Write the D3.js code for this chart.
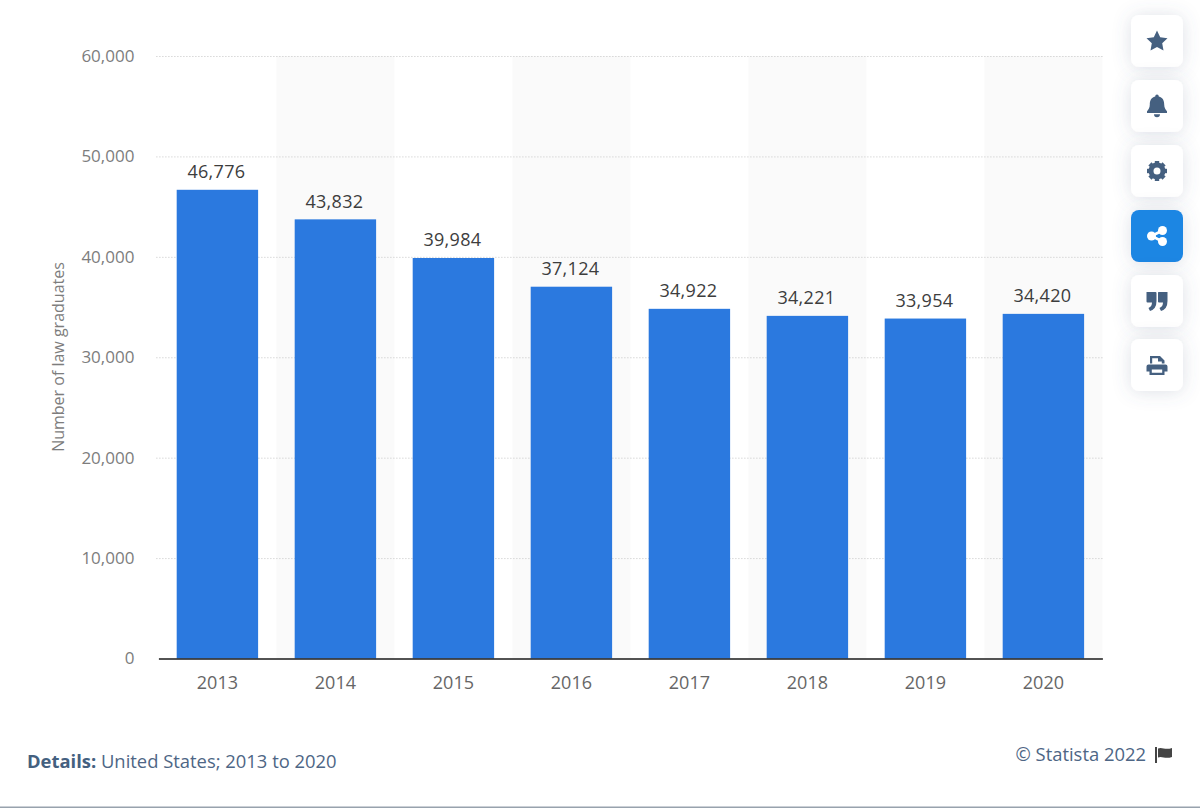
<!DOCTYPE html>
<html>
<head>
<meta charset="utf-8">
<script src="https://cdn.jsdelivr.net/npm/d3@7"></script>
<style>
html, body { margin: 0; padding: 0; background: #fff; overflow: hidden; }
text { font-family: "Open Sans", sans-serif; }
</style>
</head>
<body>
<div id="chart"></div>
<script>
const years = ['2013', '2014', '2015', '2016', '2017', '2018', '2019', '2020'];
const graduates = [46776, 43832, 39984, 37124, 34922, 34221, 33954, 34420];
const yTicks = [0, 10000, 20000, 30000, 40000, 50000, 60000];

const width = 1200;
const height = 808;
const plotLeft = 158.4;
const plotRight = 1102.4;
const plotTop = 56;
const plotBottom = 658.5;
const barInset = 1;

const barColor = '#2b79df';
const stripeColor = '#fafafa';
const gridColor = '#c4c4c4';
const iconColor = '#456080';
const detailColor = '#4e6685';

const svg = d3.select('#chart').append('svg')
  .attr('width', width)
  .attr('height', height)
  .style('display', 'block');

const x = d3.scaleBand().domain(years).range([plotLeft, plotRight]).paddingInner(0.31).paddingOuter(0.155);
const y = d3.scaleLinear().domain([0, 60000]).range([plotBottom, plotTop]);
const step = x.step();

// alternating background stripes
svg.append('g').selectAll('rect')
  .data(years.filter((d, i) => i % 2 === 1))
  .join('rect')
  .attr('x', d => x(d) - (step - x.bandwidth()) / 2)
  .attr('y', plotTop)
  .attr('width', step)
  .attr('height', plotBottom - plotTop)
  .attr('fill', stripeColor);

// y axis, gridlines come from the ticks
const yAxis = svg.append('g')
  .attr('transform', `translate(${plotLeft - 2},0)`)
  .call(d3.axisLeft(y).tickValues(yTicks).tickFormat(d3.format(',')).tickSize(0).tickPadding(22));
yAxis.select('.domain').remove();
yAxis.selectAll('text')
  .attr('font-size', 17)
  .attr('fill', '#7d7d7d');
yAxis.selectAll('.tick').filter(d => d > 0).append('line')
  .attr('x1', 0)
  .attr('x2', plotRight - plotLeft + 2)
  .attr('stroke', gridColor)
  .attr('stroke-width', 1)
  .attr('stroke-dasharray', '1 2');

svg.append('text')
  .attr('transform', 'translate(64,357) rotate(-90)')
  .attr('text-anchor', 'middle')
  .attr('font-size', 16)
  .attr('fill', '#7d7d7d')
  .text('Number of law graduates');

// bars
svg.append('g').selectAll('rect')
  .data(years)
  .join('rect')
  .attr('x', d => x(d))
  .attr('y', (d, i) => y(graduates[i]) + barInset)
  .attr('width', x.bandwidth())
  .attr('height', (d, i) => plotBottom - y(graduates[i]) - barInset)
  .attr('fill', barColor);

// value labels
svg.append('g').selectAll('text')
  .data(years)
  .join('text')
  .attr('x', d => x(d) + x.bandwidth() / 2 - 1)
  .attr('y', (d, i) => y(graduates[i]) - 10.5)
  .attr('text-anchor', 'middle')
  .attr('font-size', 18)
  .attr('font-weight', 500)
  .style('letter-spacing', '0.3px')
  .attr('fill', '#3d3d3d')
  .text((d, i) => d3.format(',')(graduates[i]));

// x axis
const xAxis = svg.append('g')
  .attr('transform', `translate(0,${plotBottom})`)
  .call(d3.axisBottom(x).tickSize(0).tickPadding(18));
xAxis.select('.domain').attr('stroke', '#1a1a1a').attr('stroke-width', 1.5);
xAxis.selectAll('text')
  .attr('font-size', 18)
  .attr('fill', '#666');

// footer
const details = svg.append('text')
  .attr('x', 27)
  .attr('y', 768)
  .attr('font-size', 18.4)
  .attr('fill', detailColor);
details.append('tspan').attr('font-weight', 700).attr('fill', '#44607f').text('Details:');
details.append('tspan').text(' United States; 2013 to 2020');

svg.append('text')
  .attr('x', 1146)
  .attr('y', 761)
  .attr('text-anchor', 'end')
  .attr('font-size', 18.4)
  .attr('fill', detailColor)
  .text('© Statista 2022');

// flag icon
const flag = svg.append('g').attr('transform', 'translate(1155,747)').attr('fill', '#444');
flag.append('rect').attr('width', 2).attr('height', 16);
flag.append('path').attr('d', 'M3,1.5 C7,-0.5 10,3.5 17,1 L17,10 C10,12.5 7,8.5 3,10.5 Z');

// bottom edge of the window
svg.append('rect').attr('x', 0).attr('y', 806.5).attr('width', width).attr('height', 1.5).attr('fill', '#98a2ad');

// side buttons
const buttons = ['star', 'bell', 'gear', 'share', 'quote', 'print'];
const buttonTops = [15, 80, 145, 210, 275, 339];
const shadow = svg.append('defs').append('filter')
  .attr('id', 'btnShadow')
  .attr('x', '-60%').attr('y', '-60%').attr('width', '220%').attr('height', '220%');
shadow.append('feDropShadow')
  .attr('dx', 0).attr('dy', 1).attr('stdDeviation', 9)
  .attr('flood-color', '#5a6b85').attr('flood-opacity', 0.2);

const iconPaths = {
  star: 'M0,-10.5 L3.2,-3.7 L10.5,-2.8 L5.2,2.3 L6.5,9.6 L0,6 L-6.5,9.6 L-5.2,2.3 L-10.5,-2.8 L-3.2,-3.7 Z',
  bell: 'M-1.8,-9.6 A1.8,1.8 0 0 1 1.8,-9.6 C6,-8.6 7.2,-5 7.2,-1.5 C7.2,2 8.6,3.6 10,5.2 L10,7 L-10,7 L-10,5.2 C-8.6,3.6 -7.2,2 -7.2,-1.5 C-7.2,-5 -6,-8.6 -1.8,-9.6 Z M-3,8.2 L3,8.2 A3,3 0 0 1 -3,8.2 Z',
  quote: 'M-10.5,-9 L-1.5,-9 Q-0.5,-9 -0.5,-8 L-0.5,0 Q-0.5,8 -7,10 L-8.5,7 Q-5,5.5 -5,1.5 L-9.5,1.5 Q-10.5,1.5 -10.5,0.5 Z M1.5,-9 L10.5,-9 L10.5,0 Q10.5,8 4,10 L2.5,7 Q6,5.5 6,1.5 L2,1.5 Q1,1.5 1,0.5 L1,-8 Q1,-9 1.5,-9 Z',
  print: 'M-7,-9 L3,-9 L7.5,-4.5 L7.5,-1.5 L4.8,-1.5 L4.8,-3.5 L1,-3.5 L1,-6.8 L-4.8,-6.8 L-4.8,-1.5 L-7,-1.5 Z M-8.5,-0.5 L8.5,-0.5 Q10.5,-0.5 10.5,1.5 L10.5,6.5 L7.5,6.5 L7.5,10 L-7.5,10 L-7.5,6.5 L-10.5,6.5 L-10.5,1.5 Q-10.5,-0.5 -8.5,-0.5 Z M-5.2,4.5 L-5.2,7.8 L5.2,7.8 L5.2,4.5 Z'
};

const button = svg.append('g').selectAll('g')
  .data(buttons)
  .join('g')
  .attr('transform', (d, i) => `translate(1131,${buttonTops[i]})`);

button.append('rect')
  .attr('width', 52)
  .attr('height', 52)
  .attr('rx', 8)
  .attr('fill', d => d === 'share' ? '#1f86e3' : '#fff')
  .attr('filter', 'url(#btnShadow)');

const icon = button.append('g')
  .attr('transform', 'translate(26,26)')
  .attr('fill', d => d === 'share' ? '#fff' : iconColor);

icon.filter(d => iconPaths[d]).append('path')
  .attr('fill-rule', 'evenodd')
  .attr('d', d => iconPaths[d]);

// share: three dots joined by two lines
const share = icon.filter(d => d === 'share');
share.append('path')
  .attr('d', 'M5.5,-5.5 L-5.5,0 L5.5,5.5')
  .attr('fill', 'none')
  .attr('stroke', '#fff')
  .attr('stroke-width', 2.6);
share.selectAll('circle')
  .data([[5.5, -5.5], [-5.5, 0], [5.5, 5.5]])
  .join('circle')
  .attr('cx', d => d[0])
  .attr('cy', d => d[1])
  .attr('r', 4.5);

// gear: a ring plus eight teeth
const gear = icon.filter(d => d === 'gear');
gear.append('circle')
  .attr('r', 6)
  .attr('fill', 'none')
  .attr('stroke', iconColor)
  .attr('stroke-width', 5);
gear.selectAll('rect')
  .data(d3.range(8))
  .join('rect')
  .attr('x', -2.2)
  .attr('y', -10)
  .attr('width', 4.4)
  .attr('height', 4)
  .attr('transform', d => `rotate(${d * 45})`);
</script>
</body>
</html>
